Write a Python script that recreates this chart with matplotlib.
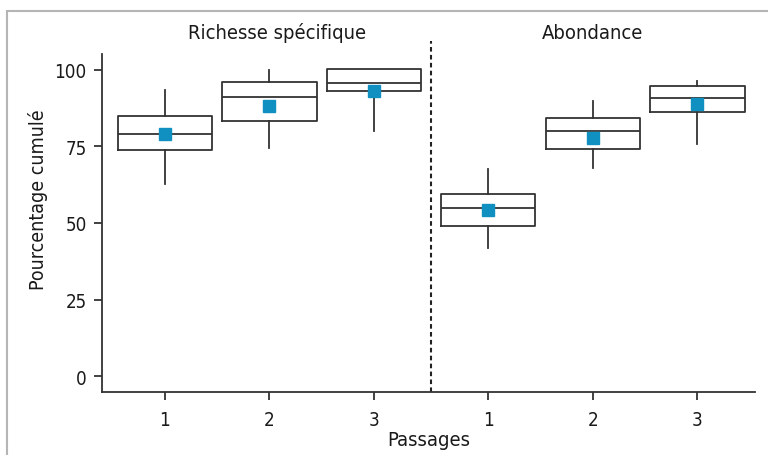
import matplotlib
matplotlib.use("Agg")
import matplotlib.pyplot as plt
from matplotlib.patches import Rectangle

# Data
groups = ["Richesse spécifique", "Abondance"]
passages = ["1", "2", "3"]
whislo = [62.8, 74.5, 80.0, 41.7, 67.9, 75.9]
q1 = [73.9, 83.2, 93.0, 49.1, 74.1, 86.3]
med = [79.0, 91.1, 95.8, 54.9, 80.1, 90.8]
q3 = [85.0, 96.0, 100.3, 59.5, 84.3, 94.9]
whishi = [93.6, 100.1, 100.3, 67.6, 89.8, 96.5]
means = [79.2, 88.3, 93.0, 54.2, 77.9, 88.8]
yticks = [0, 25, 50, 75, 100]

plt.rcParams['font.family'] = ['DejaVu Sans']
plt.rcParams['font.stretch'] = 'condensed'

fig = plt.figure(figsize=(7.68, 4.56), dpi=100)
ax = fig.add_axes([102/768, 1-393/456, (755-102)/768, (393-55)/456])

positions = [1, 2, 3, 4.09, 5.09, 6.09]
stats = []
for i in range(6):
    stats.append(dict(whislo=whislo[i], q1=q1[i], med=med[i], q3=q3[i],
                      whishi=whishi[i], mean=means[i], fliers=[]))

lc = '#333333'
ax.bxp(stats, positions=positions, widths=0.9, showmeans=True, showcaps=False,
       boxprops=dict(color=lc, linewidth=1.3),
       medianprops=dict(color=lc, linewidth=1.3),
       whiskerprops=dict(color=lc, linewidth=1.3),
       meanprops=dict(marker='s', markerfacecolor='#1090c0', markeredgecolor='#1090c0',
                      markersize=8.5),
       manage_ticks=False)

ax.set_xlim(0.4, 6.64)
ax.set_ylim(-5.2, 105.2)
ax.set_xticks(positions)
ax.set_xticklabels(passages * 2)
ax.set_yticks(yticks)
ax.set_yticklabels([str(v) for v in yticks])

for s in ['top', 'right']:
    ax.spines[s].set_visible(False)
for s in ['left', 'bottom']:
    ax.spines[s].set_color(lc)
    ax.spines[s].set_linewidth(1.3)
ax.tick_params(axis='both', colors=lc, length=6, width=1.3, labelsize=13.5,
               labelcolor='#1a1a1a', pad=5)
ax.tick_params(axis='x', pad=7)

mid = (3 + 4.09) / 2
ax.plot([mid, mid], [-5.2, 109.5], ls=(0, (2.2, 1.6)), color='#222222', lw=1.5,
        clip_on=False)

ax.text(2.07, 112.3, groups[0], ha='center', va='center', fontsize=14.5,
        color='#1a1a1a')
ax.text(5.09, 112.3, groups[1], ha='center', va='center', fontsize=14.5,
        color='#1a1a1a')

ax.set_ylabel("Pourcentage cumulé", fontsize=14, color='#1a1a1a')
ax.yaxis.set_label_coords(-0.083, 0.571)
ax.set_xlabel("Passages", fontsize=14.5, color='#1a1a1a', labelpad=1)

fig.patches.append(Rectangle((7/768, -0.1), 1.2, 1 - 12/456 + 0.1,
                             transform=fig.transFigure, fill=False,
                             edgecolor='#b5b5b5', linewidth=1.5))

fig.savefig("out.png", dpi=100)
